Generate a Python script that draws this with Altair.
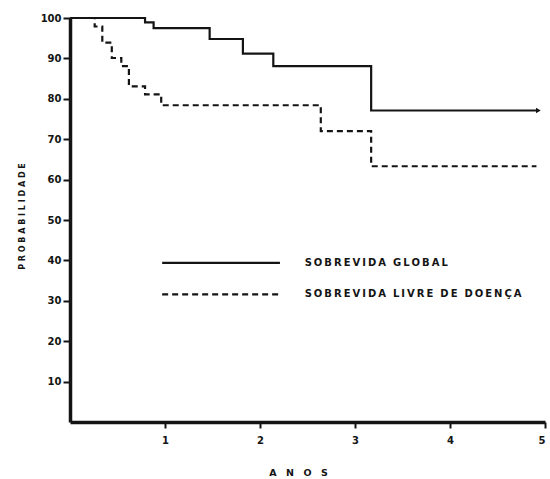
import altair as alt
import pandas as pd

# Kaplan-Meier step curves (years, probability %)
global_t = [0, 0.79, 0.88, 1.47, 1.82, 2.14, 3.17, 4.93]
global_p = [100, 98.9, 97.5, 94.8, 91.2, 88.1, 77.1, 77.1]

dfs_t = [0, 0.26, 0.34, 0.44, 0.54, 0.62, 0.79, 0.96, 2.64, 3.17, 4.91]
dfs_p = [100, 97.9, 93.9, 90.1, 88.1, 83.1, 81.1, 78.4, 72.0, 63.3, 63.3]

series_names = ["SOBREVIDA GLOBAL", "SOBREVIDA LIVRE DE DOENÇA"]


def spaced(s, letter_gap="\u2009", word_gap="\u2002\u2009"):
    words = s.split(" ")
    return word_gap.join(letter_gap.join(list(w)) for w in words)


rows = []
for t, p in zip(global_t, global_p):
    rows.append({"serie": series_names[0], "t": t, "p": p})
for t, p in zip(dfs_t, dfs_p):
    rows.append({"serie": series_names[1], "t": t, "p": p})
df = pd.DataFrame(rows)

# legend (drawn inside the plot)
leg_y = [39.4, 31.6]
leg = pd.DataFrame({
    "serie": series_names,
    "label": [spaced(s) for s in series_names],
    "x0": [0.97, 0.97],
    "x1": [2.21, 2.21],
    "xt": [2.47, 2.47],
    "y": leg_y,
})

FONT = "DejaVu Sans"
INK = "#141414"

xs = alt.Scale(domain=[0, 5], nice=False, zero=True)
ys = alt.Scale(domain=[0, 100], nice=False)
dash_scale = alt.Scale(domain=series_names, range=[[1, 0], [6, 4]])

lines = alt.Chart(df).mark_line(interpolate="step-after", strokeWidth=2.2, color=INK).encode(
    x=alt.X("t:Q", scale=xs,
            axis=alt.Axis(values=[1, 2, 3, 4, 5], format="d",
                          title="A\u2002\u2002N\u2002\u2002O\u2002\u2002S",
                          titleX=228, titleY=50, titleAlign="center", titleBaseline="middle",
                          titleFontSize=9.5)),
    y=alt.Y("p:Q", scale=ys,
            axis=alt.Axis(values=[10, 20, 30, 40, 50, 60, 70, 80, 90, 100], format="d",
                          title="P R O B A B I L I D A D E",
                          titleX=-48, titleY=198, titleAngle=270, titleAlign="center",
                          titleBaseline="middle", titleFontSize=8)),
    strokeDash=alt.StrokeDash("serie:N", scale=dash_scale, legend=None),
    detail="serie:N",
)

arrow = alt.Chart(pd.DataFrame({"t": [global_t[-1]], "p": [global_p[-1]]})).mark_point(
    shape="triangle-right", filled=True, size=30, color=INK, opacity=1
).encode(x=alt.X("t:Q", scale=xs), y=alt.Y("p:Q", scale=ys))

leg_lines = alt.Chart(leg).mark_rule(strokeWidth=2.2, color=INK).encode(
    x=alt.X("x0:Q", scale=xs), x2="x1:Q", y=alt.Y("y:Q", scale=ys),
    strokeDash=alt.StrokeDash("serie:N", scale=dash_scale, legend=None),
)

leg_text = alt.Chart(leg).mark_text(
    align="left", baseline="middle", font=FONT, fontWeight="bold", fontSize=10, color=INK
).encode(x=alt.X("xt:Q", scale=xs), y=alt.Y("y:Q", scale=ys), text="label:N")

chart = alt.layer(lines, arrow, leg_lines, leg_text).properties(
    width=475, height=404,
    autosize=alt.AutoSizeParams(type="none"),
    padding={"left": 70, "top": 18, "right": 5, "bottom": 57},
    background="white",
).configure_view(stroke=None).configure_axis(
    grid=False,
    domainColor=INK, domainWidth=3.5,
    tickColor=INK, tickWidth=2, tickSize=7,
    labelFont=FONT, labelFontWeight="bold", labelFontSize=10, labelColor=INK,
    labelPadding=2,
    titleFont=FONT, titleFontWeight="bold", titleColor=INK,
).configure_axisX(labelPadding=7, tickSize=6)

chart.save("out.html", embed_options={"renderer": "svg", "actions": False})
